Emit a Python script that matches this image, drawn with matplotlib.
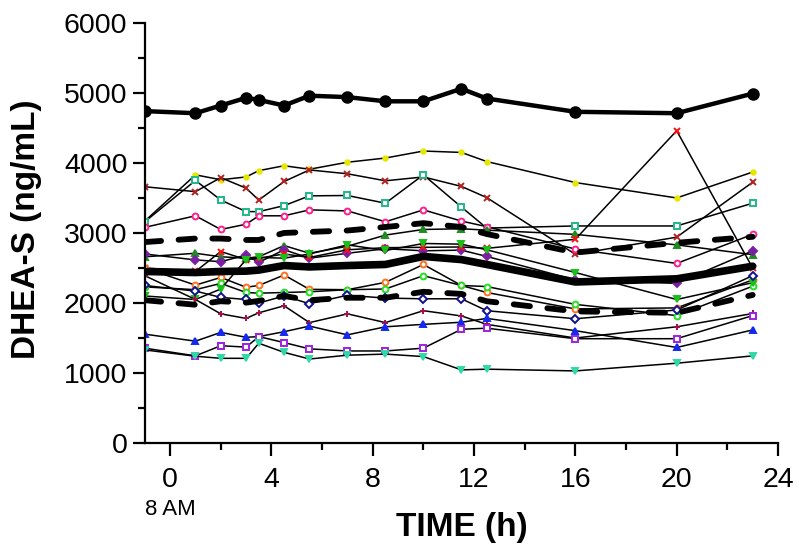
import matplotlib
matplotlib.use("Agg")
import matplotlib.pyplot as plt
from matplotlib.transforms import blended_transform_factory

plt.rcParams['font.family'] = ['Liberation Sans', 'DejaVu Sans']

# ---- data ----
time_h = [-1, 1, 2, 3, 3.5, 4.5, 5.5, 7, 8.5, 10, 11.5, 12.5, 16, 20, 23]

subj_yellow = [3170, 3830, 3760, 3800, 3890, 3960, 3910, 4010, 4070, 4170, 4150, 4020, 3720, 3500, 3870]
subj_darkred = [3660, 3590, 3790, 3640, 3470, 3735, 3900, 3845, 3745, 3800, 3665, 3505, 2695, 2940, 3725]
subj_teal = [3160, 3750, 3470, 3305, 3305, 3390, 3530, 3535, 3425, 3830, 3370, 3070, 3100, 3100, 3425]
subj_pink = [3080, 3245, 3050, 3125, 3245, 3245, 3330, 3315, 3160, 3330, 3170, 3090, 2770, 2565, 2980]
subj_green_up = [2660, 2710, 2660, 2640, 2660, 2820, 2710, 2810, 2970, 3050, 3060, 3040, 2980, 2830, 2690]
subj_purple = [2700, 2615, 2590, 2685, 2580, 2760, 2640, 2710, 2775, 2745, 2755, 2665, 2330, 2280, 2745]
subj_red = [2500, 2450, 2735, 2620, 2640, 2700, 2650, 2760, 2790, 2795, 2800, 2780, 2910, 4460, 2500]
subj_orange = [2500, 2255, 2365, 2225, 2250, 2400, 2195, 2190, 2295, 2550, 2250, 2150, 1915, 1930, 2330]
subj_lime = [2230, 2190, 2280, 2150, 2140, 2150, 2160, 2190, 2200, 2390, 2250, 2235, 1980, 1820, 2240]
subj_green_down = [2100, 2050, 2200, 2620, 2650, 2640, 2700, 2830, 2750, 2850, 2840, 2760, 2435, 2050, 2290]
subj_navy = [2250, 2170, 2080, 2050, 2000, 2100, 1990, 2110, 2070, 2060, 2060, 1890, 1775, 1900, 2390]
subj_maroon = [2390, 2050, 1845, 1780, 1860, 1960, 1720, 1845, 1720, 1890, 1815, 1695, 1500, 1660, 1850]
subj_blue = [1555, 1455, 1580, 1510, 1520, 1590, 1670, 1545, 1660, 1695, 1725, 1780, 1605, 1365, 1615]
subj_violet = [1355, 1245, 1390, 1370, 1520, 1435, 1345, 1315, 1315, 1355, 1625, 1640, 1490, 1490, 1820]
subj_aqua = [1330, 1240, 1210, 1210, 1425, 1295, 1200, 1255, 1270, 1235, 1045, 1055, 1030, 1140, 1245]

top_subject = [4740, 4710, 4820, 4930, 4900, 4820, 4960, 4940, 4880, 4880, 5060, 4920, 4730, 4710, 4990]
mean_line = [2450, 2435, 2450, 2455, 2470, 2535, 2515, 2535, 2550, 2665, 2620, 2550, 2300, 2345, 2525]
upper_band = [2870, 2920, 2920, 2900, 2900, 3000, 3015, 3035, 3085, 3140, 3085, 2985, 2720, 2860, 2945]
lower_band = [2040, 1975, 2025, 2005, 2030, 2100, 2040, 2075, 2075, 2160, 2130, 2025, 1880, 1860, 2115]

x_ticks = [0, 4, 8, 12, 16, 20, 24]
y_ticks = [0, 1000, 2000, 3000, 4000, 5000, 6000]

# (values, color, marker, filled)
subjects = [
    (subj_yellow, '#E6E600', 'o', True),
    (subj_darkred, '#B22222', 'x', True),
    (subj_teal, '#20B888', 's', False),
    (subj_pink, '#FF1E8C', 'o', False),
    (subj_green_up, '#1E8C1E', '^', True),
    (subj_purple, '#7B1FA2', 'D', True),
    (subj_red, '#FF1010', 'x', True),
    (subj_orange, '#FF7020', 'o', False),
    (subj_lime, '#22E022', 'o', False),
    (subj_green_down, '#18C018', 'v', True),
    (subj_navy, '#10108C', 'D', False),
    (subj_maroon, '#A0104A', '+', True),
    (subj_blue, '#1428F0', '^', True),
    (subj_violet, '#A020E0', 's', False),
    (subj_aqua, '#30D8A8', 'v', True),
]

fig = plt.figure(figsize=(8.0, 5.58), dpi=100)
ax = fig.add_axes([0.181, 0.206, 0.7915, 0.753])

for vals, col, mk, filled in subjects:
    ms = 3.2 if col == '#E6E600' else 4.2
    kw = dict(marker=mk, markersize=ms, markeredgecolor=col, markeredgewidth=1.4)
    kw['markerfacecolor'] = col if filled else 'white'
    ax.plot(time_h, vals, color='black', linewidth=1.1, zorder=2, **kw)

dash = (0, (2.8, 3.0))
ax.plot(time_h, upper_band, color='black', linewidth=4.2, linestyle=dash,
        dash_capstyle='round', zorder=3)
ax.plot(time_h, lower_band, color='black', linewidth=4.2, linestyle=dash,
        dash_capstyle='round', zorder=3)
ax.plot(time_h, mean_line, color='black', linewidth=5.5, solid_capstyle='round', zorder=3)
ax.plot(time_h, top_subject, color='black', linewidth=3.2, marker='o', markersize=8,
        markerfacecolor='black', markeredgecolor='black', zorder=4)

ax.set_xlim(-1, 24)
ax.set_ylim(0, 6000)
ax.set_xticks(x_ticks)
ax.set_xticks([2, 6, 10, 14, 18, 22], minor=True)
ax.set_yticks(y_ticks)
ax.set_yticks([500, 1500, 2500, 3500, 4500, 5500], minor=True)
ax.set_xticklabels([str(v) for v in x_ticks])
ax.set_yticklabels([str(v) for v in y_ticks])

for side in ['top', 'right']:
    ax.spines[side].set_visible(False)
for side in ['left', 'bottom']:
    ax.spines[side].set_linewidth(1.6)

ax.tick_params(axis='both', which='major', direction='out', length=9, width=1.6,
               labelsize=20.5, pad=3.5)
ax.tick_params(axis='both', which='minor', direction='out', length=5, width=1.6)
ax.tick_params(axis='x', which='major', pad=8)

ax.set_ylabel('DHEA-S (ng/mL)', fontsize=24, fontweight='bold')
ax.yaxis.set_label_coords(-0.162, 0.51)
ax.set_xlabel('TIME (h)', fontsize=24, fontweight='bold')
ax.xaxis.set_label_coords(0.5, -0.165)

trans = blended_transform_factory(ax.transData, ax.transAxes)
ax.text(0, -0.158, '8 AM', transform=trans, ha='center', va='center', fontsize=16)

fig.savefig('out.png', dpi=100)
